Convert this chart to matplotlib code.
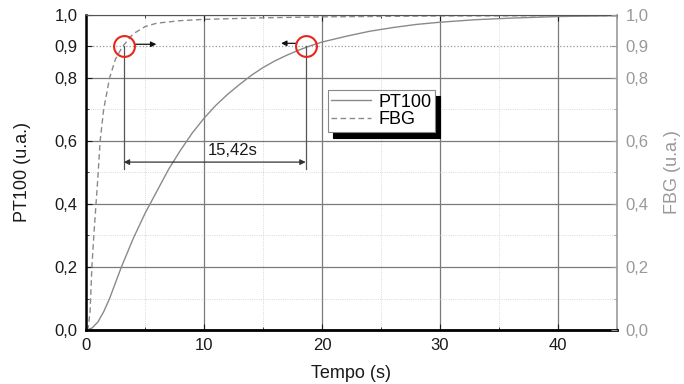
"""Response time of PT100 vs FBG sensors."""

import matplotlib
matplotlib.use("Agg")
import matplotlib.pyplot as plt
from matplotlib.ticker import FixedLocator, MultipleLocator

plt.rcParams["font.family"] = ["Liberation Sans", "DejaVu Sans"]

pt100_t = [0, 0.5, 1, 1.5, 2, 2.5, 3, 4, 5, 6, 7, 8, 9, 10, 11, 12, 13, 14, 15, 16,
           17, 18, 19, 20, 22, 24, 26, 28, 30, 33, 36, 40, 45]
pt100_y = [0, 0.006, 0.025, 0.058, 0.1, 0.15, 0.2, 0.29, 0.37, 0.44, 0.51, 0.57, 0.625, 0.672,
           0.713, 0.748, 0.779, 0.808, 0.833, 0.854, 0.872, 0.888, 0.902, 0.914, 0.932, 0.948,
           0.96, 0.97, 0.977, 0.985, 0.99, 0.995, 0.998]

fbg_t = [0, 0.2, 0.35, 0.5, 0.7, 0.85, 1.0, 1.2, 1.5, 2.0, 2.5, 3.1, 4, 5, 6, 8, 10, 15,
         20, 30, 45]
fbg_y = [0, 0.01, 0.06, 0.2, 0.32, 0.4, 0.48, 0.6, 0.7, 0.8, 0.86, 0.9, 0.94, 0.963,
         0.974, 0.982, 0.986, 0.991, 0.994, 0.997, 0.998]

fbg_t90 = 3.2
pt100_t90 = 18.62
delta_label = "15,42s"

y_ticks = [0.0, 0.2, 0.4, 0.6, 0.8, 0.9, 1.0]
y_labels = ["0,0", "0,2", "0,4", "0,6", "0,8", "0,9", "1,0"]
x_ticks = [0, 10, 20, 30, 40]

curve_color = "#8a8a8a"
tick_fs = 12
label_fs = 13

fig = plt.figure(figsize=(6.84, 3.84), dpi=100)
ax = fig.add_axes([0.1257, 0.1406, 0.7763, 0.8204])

ax.plot(pt100_t, pt100_y, color=curve_color, lw=1.0, label="PT100")
ax.plot(fbg_t, fbg_y, color=curve_color, lw=1.0, ls=(0, (4, 2.5)), label="FBG")

ax.set_xlim(0, 45)
ax.set_ylim(0, 1.0)
ax.xaxis.set_major_locator(FixedLocator(x_ticks))
ax.xaxis.set_minor_locator(MultipleLocator(5))
ax.yaxis.set_major_locator(FixedLocator(y_ticks))
ax.set_yticklabels(y_labels)
ax.yaxis.set_minor_locator(FixedLocator([0.1, 0.3, 0.5, 0.7]))

ax.grid(True, which="major", color="#7a7a7a", lw=0.9)
ax.grid(True, which="minor", color="#cccccc", lw=0.6, ls=":")
for gl, v in zip(ax.get_ygridlines(), y_ticks):
    if v == 0.9:
        gl.set_linestyle(":")
        gl.set_color("#999999")

ax.tick_params(direction="in", which="both", top=True, labelsize=tick_fs, colors="#1a1a1a")
ax.tick_params(which="major", length=4, pad=6)
ax.tick_params(which="minor", length=2.5)
ax.spines["left"].set_linewidth(1.8)
ax.spines["bottom"].set_linewidth(2.0)
ax.spines["top"].set_color("#555555")
ax.spines["right"].set_color("#999999")
ax.spines["right"].set_linewidth(1.2)

ax.set_xlabel("Tempo (s)", fontsize=label_fs, color="#1a1a1a")
ax.xaxis.set_label_coords(0.5, -0.11)
ax.set_ylabel("PT100 (u.a.)", fontsize=label_fs, color="#1a1a1a")
ax.yaxis.set_label_coords(-0.104, 0.5)

ax2 = ax.twinx()
ax2.set_ylim(0, 1.0)
ax2.yaxis.set_major_locator(FixedLocator(y_ticks))
ax2.set_yticklabels(y_labels)
ax2.yaxis.set_minor_locator(FixedLocator([0.1, 0.3, 0.5, 0.7]))
ax2.tick_params(direction="in", which="both", labelsize=tick_fs, colors="#999999")
ax2.tick_params(which="major", length=4, pad=6)
ax2.tick_params(which="minor", length=2.5)
ax2.set_ylabel("FBG (u.a.)", fontsize=label_fs, color="#999999")
ax2.yaxis.set_label_coords(1.088, 0.5)
for s in ax2.spines.values():
    s.set_visible(False)

# 90% markers and the time difference
ax.plot([fbg_t90, pt100_t90], [0.9, 0.9], ls="none", marker="o", ms=15,
        mfc="none", mec="#e8261c", mew=1.5, zorder=5)
for t in (fbg_t90, pt100_t90):
    ax.plot([t, t], [0.9, 0.51], color="#555555", lw=0.9)
ax.annotate("", xy=(6.2, 0.907), xytext=(3.9, 0.907),
            arrowprops=dict(arrowstyle="-|>", color="#111111", lw=0.9,
                            mutation_scale=8))
ax.annotate("", xy=(16.3, 0.91), xytext=(18.0, 0.91),
            arrowprops=dict(arrowstyle="-|>", color="#111111", lw=0.9,
                            mutation_scale=8))
ax.annotate("", xy=(pt100_t90, 0.533), xytext=(fbg_t90, 0.533),
            arrowprops=dict(arrowstyle="<|-|>", color="#333333", lw=0.9,
                            mutation_scale=8, shrinkA=0, shrinkB=0))
ax.text(12.4, 0.556, delta_label, ha="center", va="baseline",
        fontsize=tick_fs, color="#1a1a1a")

leg = ax.legend(loc="upper left", bbox_to_anchor=(0.455, 0.762), fontsize=label_fs,
                frameon=True, fancybox=False, handlelength=2.2,
                borderpad=0.2, labelspacing=0.05, handletextpad=0.4,
                borderaxespad=0,
                shadow={"color": "black", "ox": 4, "oy": -4, "alpha": 1})
leg.get_frame().set_edgecolor("#888888")
leg.get_frame().set_linewidth(0.8)

fig.savefig("out.png", dpi=100)
